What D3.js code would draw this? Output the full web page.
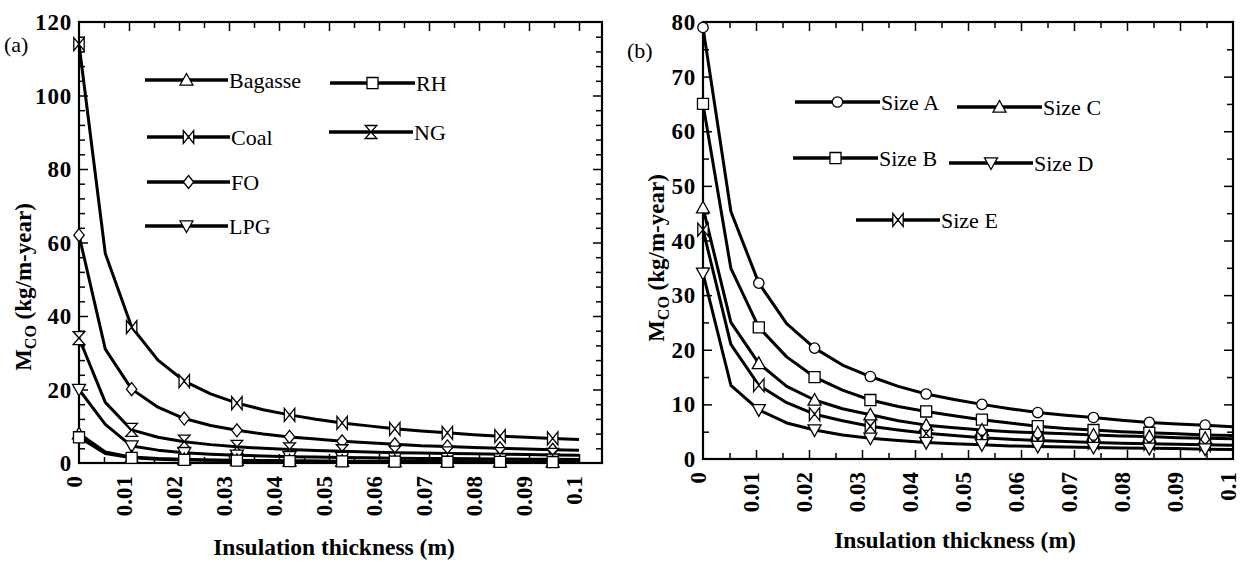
<!DOCTYPE html>
<html>
<head>
<meta charset="utf-8">
<script src="https://cdn.jsdelivr.net/npm/d3@7"></script>
<style>
  body { margin: 0; background: #fff; }
  text { font-family: "Liberation Serif", "Times New Roman", serif; fill: #000; }
</style>
</head>
<body>
<svg id="chart" width="1241" height="562"></svg>
<script>
// insulation thickness (m), same grid for both panels
const thickness = [0, 0.00526, 0.01053, 0.01579, 0.02105, 0.02632, 0.03158, 0.03684, 0.04211, 0.04737,
  0.05263, 0.05789, 0.06316, 0.06842, 0.07368, 0.07895, 0.08421, 0.08947, 0.09474, 0.1];

// (a) fuels
const coal    = [114, 57, 37, 28, 22.3, 18.8, 16.3, 14.5, 13.1, 11.9, 10.9, 10.1, 9.3, 8.7, 8.2, 7.7, 7.3, 7.0, 6.7, 6.4];
const fo      = [62, 31, 20.1, 15.2, 12.1, 10.2, 8.9, 7.9, 7.1, 6.5, 5.9, 5.5, 5.1, 4.7, 4.5, 4.2, 4.0, 3.8, 3.6, 3.5];
const ng      = [34, 16.5, 9.0, 7.0, 5.8, 5.0, 4.4, 4.0, 3.7, 3.4, 3.2, 3.0, 2.8, 2.7, 2.6, 2.5, 2.4, 2.3, 2.2, 2.1];
const lpg     = [20, 10.5, 4.6, 3.5, 2.8, 2.4, 2.1, 1.9, 1.7, 1.6, 1.5, 1.4, 1.3, 1.25, 1.2, 1.15, 1.1, 1.05, 1.0, 0.95];
const bagasse = [8, 3.0, 1.6, 1.2, 1.0, 0.85, 0.75, 0.66, 0.6, 0.55, 0.5, 0.47, 0.44, 0.41, 0.39, 0.37, 0.35, 0.34, 0.32, 0.31];
const rh      = [7, 2.6, 1.4, 1.05, 0.85, 0.72, 0.63, 0.56, 0.5, 0.46, 0.43, 0.4, 0.37, 0.35, 0.33, 0.31, 0.3, 0.28, 0.27, 0.26];

// (b) pipe sizes
const sizeA = [79, 45.3, 32.2, 24.8, 20.3, 17.2, 15.1, 13.3, 11.9, 10.9, 10.0, 9.2, 8.5, 8.0, 7.6, 7.1, 6.7, 6.4, 6.2, 5.9];
const sizeB = [65, 34.9, 24.1, 18.7, 15.0, 12.6, 10.8, 9.6, 8.7, 7.9, 7.2, 6.6, 6.0, 5.6, 5.3, 5.0, 4.8, 4.6, 4.4, 4.3];
const sizeC = [46, 25, 17.5, 13.3, 10.8, 9.2, 8.1, 7.0, 6.2, 5.7, 5.3, 5.0, 4.8, 4.6, 4.4, 4.2, 4.1, 3.9, 3.8, 3.7];
const sizeD = [34, 13.5, 9.0, 6.6, 5.3, 4.4, 3.8, 3.4, 3.0, 2.8, 2.6, 2.4, 2.3, 2.2, 2.1, 2.0, 1.95, 1.9, 1.8, 1.75];
const sizeE = [42, 21, 13.5, 10.3, 8.2, 7.0, 6.0, 5.3, 4.7, 4.3, 3.9, 3.6, 3.4, 3.2, 3.0, 2.9, 2.8, 2.7, 2.6, 2.5];

const xTickLabels = ["0", "0.01", "0.02", "0.03", "0.04", "0.05", "0.06", "0.07", "0.08", "0.09", "0.1"];
const yTicksA = [0, 20, 40, 60, 80, 100, 120];
const yTicksB = [0, 10, 20, 30, 40, 50, 60, 70, 80];

const svg = d3.select("#chart");

// marker shapes, s = half size
const shapes = {
  up: s => `M0,${-s}L${s},${s * 0.8}L${-s},${s * 0.8}Z`,
  down: s => `M0,${s}L${s},${-s * 0.8}L${-s},${-s * 0.8}Z`,
  square: s => `M${-s * 0.85},${-s * 0.85}h${s * 1.7}v${s * 1.7}h${-s * 1.7}Z`,
  diamond: s => `M0,${-s}L${s * 0.8},0L0,${s}L${-s * 0.8},0Z`,
  circle: s => `M${-s * 0.8},0a${s * 0.8},${s * 0.8} 0 1,0 ${s * 1.6},0a${s * 0.8},${s * 0.8} 0 1,0 ${-s * 1.6},0Z`,
  bowtie: s => `M${-s * 0.8},${-s}L${s * 0.8},${s}L${s * 0.8},${-s}L${-s * 0.8},${s}Z`,
  hourglass: s => `M${-s * 0.9},${-s}L${s * 0.9},${-s}L${-s * 0.9},${s}L${s * 0.9},${s}Z`
};

function marker(g, shape, cx, cy) {
  g.append("path")
    .attr("d", shapes[shape](6.5))
    .attr("transform", `translate(${cx},${cy})`)
    .attr("fill", "#fff")
    .attr("stroke", "#000")
    .attr("stroke-width", 1.3);
}

function drawPanel(p) {
  const x = d3.scaleLinear().domain([0, p.xMax]).range([p.left, p.right]);
  const y = d3.scaleLinear().domain([0, p.yMax]).range([p.bottom, p.top]);
  const g = svg.append("g");

  // inward ticks on all four sides
  const xMajor = d3.range(0, 11).map(i => i / 100).filter(v => v > 0 && v < p.xMax - 1e-9);
  const xMinor = d3.range(0, 21).map(i => i * 0.005).filter(v => v > 0 && v < p.xMax - 1e-9 && !xMajor.some(m => Math.abs(m - v) < 1e-9));
  const yMajor = p.yTicks.filter(v => v > 0 && v < p.yMax);
  const yMinor = d3.range(p.yMinor, p.yMax, p.yMinor).filter(v => !p.yTicks.includes(v));

  const tickSets = [
    [d3.axisBottom, p.bottom, xMajor, 9, x], [d3.axisBottom, p.bottom, xMinor, 6, x],
    [d3.axisTop, p.top, xMajor, 9, x], [d3.axisTop, p.top, xMinor, 6, x],
    [d3.axisLeft, p.left, yMajor, 9, y], [d3.axisLeft, p.left, yMinor, 6, y],
    [d3.axisRight, p.right, yMajor, 9, y], [d3.axisRight, p.right, yMinor, 6, y]
  ];
  tickSets.forEach(([ax, pos, vals, len, sc]) => {
    const horiz = ax === d3.axisBottom || ax === d3.axisTop;
    const a = g.append("g")
      .attr("transform", horiz ? `translate(0,${pos})` : `translate(${pos},0)`)
      .call(ax(sc).tickValues(vals).tickSize(-len).tickFormat(""));
    a.select(".domain").remove();
    a.selectAll("line").attr("stroke", "#000").attr("stroke-width", 1.5);
  });

  // frame
  g.append("rect")
    .attr("x", p.left).attr("y", p.top)
    .attr("width", p.right - p.left).attr("height", p.bottom - p.top)
    .attr("fill", "none").attr("stroke", "#000").attr("stroke-width", 2.2);

  // tick labels
  g.selectAll(".xl").data(xTickLabels).enter().append("text")
    .attr("transform", (d, i) => `translate(${x(i / 100)},${p.bottom + 13}) rotate(-90)`)
    .attr("text-anchor", "end").attr("dy", "0.12em")
    .style("font-size", "23px").style("font-weight", "bold")
    .text(d => d);
  g.selectAll(".yl").data(p.yTicks).enter().append("text")
    .attr("x", p.left - 7).attr("y", d => y(d)).attr("dy", "0.35em")
    .attr("text-anchor", "end")
    .style("font-size", "23px").style("font-weight", "bold").style("letter-spacing", "0.8px")
    .text(d => d);

  // axis titles
  g.append("text")
    .attr("x", p.xTitle[0]).attr("y", p.xTitle[1])
    .attr("text-anchor", "middle")
    .style("font-size", "23.5px").style("font-weight", "bold")
    .text("Insulation thickness (m)");
  const yt = g.append("text")
    .attr("transform", `translate(${p.yTitle[0]},${p.yTitle[1]}) rotate(-90)`)
    .attr("text-anchor", "middle")
    .style("font-size", "23px").style("font-weight", "bold");
  yt.append("tspan").text("M");
  yt.append("tspan").attr("dy", 5).style("font-size", "16px").text("CO");
  yt.append("tspan").attr("dy", -5).text(" (kg/m-year)");

  g.append("text")
    .attr("x", p.tag[0]).attr("y", p.tag[1])
    .style("font-size", "22px")
    .text(p.tagText);

  // curves
  const line = d3.line().x((d, i) => x(thickness[i])).y(d => y(d));
  p.series.forEach(s => {
    g.append("path").datum(s.values)
      .attr("d", line)
      .attr("fill", "none").attr("stroke", "#000")
      .attr("stroke-width", 3).attr("stroke-linejoin", "round");
  });
  p.series.forEach(s => {
    s.values.forEach((v, i) => {
      if (i % 2 === 0 && i < s.values.length - 1) marker(g, s.shape, x(thickness[i]), y(v));
    });
  });

  // legend
  p.legend.forEach(l => {
    const s = p.series.find(d => d.name === l.name);
    g.append("line")
      .attr("x1", l.x1).attr("x2", l.x2).attr("y1", l.y).attr("y2", l.y)
      .attr("stroke", "#000").attr("stroke-width", 3.5);
    marker(g, s.shape, (l.x1 + l.x2) / 2, l.y);
    g.append("text")
      .attr("x", l.x2 + 1).attr("y", l.y).attr("dy", "0.35em")
      .style("font-size", "22px")
      .text(l.name);
  });
}

drawPanel({
  left: 79, right: 602, top: 22, bottom: 463,
  xMax: 0.1046, yMax: 120, yTicks: yTicksA, yMinor: 4,
  xTitle: [334, 555], yTitle: [31, 287],
  tag: [4, 52], tagText: "(a)",
  series: [
    { name: "Coal", values: coal, shape: "bowtie" },
    { name: "FO", values: fo, shape: "diamond" },
    { name: "NG", values: ng, shape: "hourglass" },
    { name: "LPG", values: lpg, shape: "down" },
    { name: "Bagasse", values: bagasse, shape: "up" },
    { name: "RH", values: rh, shape: "square" }
  ],
  legend: [
    { name: "Bagasse", x1: 145, x2: 228, y: 80 },
    { name: "Coal", x1: 147, x2: 230, y: 137 },
    { name: "FO", x1: 147, x2: 230, y: 182 },
    { name: "LPG", x1: 145, x2: 228, y: 226 },
    { name: "RH", x1: 330, x2: 415, y: 83 },
    { name: "NG", x1: 329, x2: 413, y: 132 }
  ]
});

drawPanel({
  left: 703, right: 1233, top: 22, bottom: 459,
  xMax: 0.1, yMax: 80, yTicks: yTicksB, yMinor: 5,
  xTitle: [955, 548], yTitle: [664, 258],
  tag: [627, 58], tagText: "(b)",
  series: [
    { name: "Size A", values: sizeA, shape: "circle" },
    { name: "Size B", values: sizeB, shape: "square" },
    { name: "Size C", values: sizeC, shape: "up" },
    { name: "Size E", values: sizeE, shape: "bowtie" },
    { name: "Size D", values: sizeD, shape: "down" }
  ],
  legend: [
    { name: "Size A", x1: 795, x2: 880, y: 102 },
    { name: "Size B", x1: 793, x2: 878, y: 158 },
    { name: "Size E", x1: 856, x2: 940, y: 220 },
    { name: "Size C", x1: 957, x2: 1042, y: 107 },
    { name: "Size D", x1: 949, x2: 1033, y: 163 }
  ]
});
</script>
</body>
</html>
